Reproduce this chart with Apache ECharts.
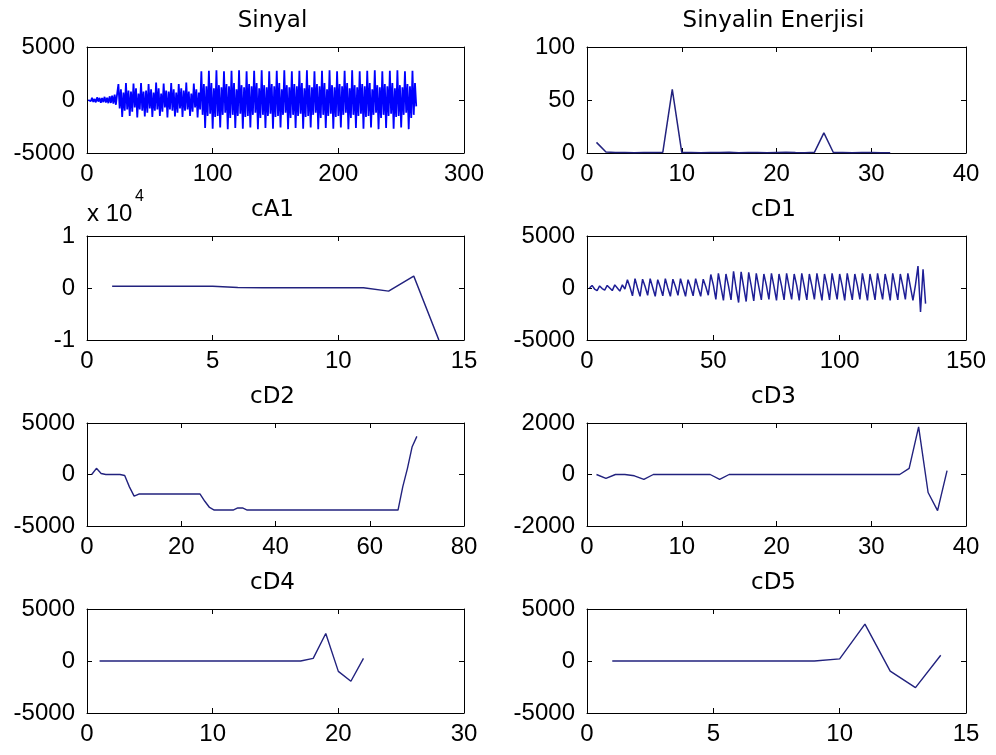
<!DOCTYPE html>
<html>
<head>
<meta charset="utf-8">
<script src="https://cdn.jsdelivr.net/npm/echarts@6/dist/echarts.min.js"></script>
<style>
html,body{margin:0;padding:0;background:#fff;}
#chart{width:996px;height:755px;}
</style>
</head>
<body>
<div id="chart"></div>
<script>
// ---------------- DATA ----------------
const titles = ['Sinyal', 'Sinyalin Enerjisi', 'cA1', 'cD1', 'cD2', 'cD3', 'cD4', 'cD5'];

const sinyal = [
  0, 150, -120, 200, -180, 100, -220, 250, -150, 200, -250, 180, -200, 300, -250, 220, -300, 350, -280, 400, -350, 500, -450, 600,
  1500, -800, 1000, -1600, 700, -1000,
  1600, -900, 900, -1500, 800, -1100,
  1550, -700, 1100, -1650, 600, -900,
  1600, -1000, 800, -1550, 900, -1200,
  1500, -800, 1000, -1600, 700, -1000,
  1650, -900, 1100, -1500, 600, -1100,
  1550, -700, 900, -1650, 800, -900,
  1600, -1000, 1000, -1550, 700, -1200,
  1500, -800, 1100, -1600, 900, -1000,
  1650, -900, 800, -1500, 600, -1100,
  1550, -700, 1000, -1650, 700, -900,
  2700, -1400, 1500, -2650, 1300, -1500,
  2750, -1300, 1600, -2700, 1100, -1600,
  2800, -1500, 1400, -2600, 1200, -1400,
  2700, -1200, 1500, -2750, 1300, -1700,
  2750, -1400, 1600, -2650, 1000, -1500,
  2800, -1300, 1400, -2700, 1200, -1600,
  2700, -1500, 1500, -2600, 1300, -1400,
  2750, -1200, 1600, -2750, 1100, -1700,
  2800, -1400, 1400, -2650, 1200, -1500,
  2700, -1300, 1500, -2700, 1300, -1600,
  2750, -1500, 1600, -2600, 1000, -1400,
  2800, -1200, 1400, -2750, 1200, -1700,
  2700, -1400, 1500, -2650, 1300, -1500,
  2750, -1300, 1600, -2700, 1100, -1600,
  2800, -1500, 1400, -2600, 1200, -1400,
  2700, -1200, 1500, -2750, 1300, -1700,
  2750, -1400, 1600, -2650, 1000, -1500,
  2800, -1300, 1400, -2700, 1200, -1600,
  2700, -1500, 1500, -2600, 1300, -1400,
  2750, -1200, 1600, -2750, 1100, -1700,
  2800, -1400, 1400, -2650, 1200, -1500,
  2700, -1300, 1500, -2700, 1300, -1600,
  2750, -1500, 1600, -2600, 1000, -1400,
  2800, -1200, 1400, -2750, 1200, -1700,
  2700, -1400, 1500, -2650, 1300, -1500,
  2750, -1300, 1600, -2700, 1100, -1600,
  2800, -1500, 1400, -2600, 1200, -1400,
  2700, -1200, 1500, -2750, 1300, -1700,
  2750, -1400, 1600, -600
];

const enerji = [10, 1, 0.5, 0.5, 0.3, 0.5, 0.4, 0.6, 60, 0.5, 0.4, 0.3, 0.5, 0.4, 0.6, 0.3, 0.5, 0.4, 0.3, 0.5, 0.6, 0.4, 0.3, 0.6, 19, 0.5, 0.4, 0.3, 0.5, 0.4, 0.3, 0.3];

const cA1 = [350, 350, 350, 350, 350, 80, 60, 60, 60, 50, 30, -600, 2300, -10000];

const cD1 = [
  0, 250, -100, -250, 200, -50, -200, 250, 0, -250, 300, 0, -300, 300, -100,
  800, 100, -750, 900, 0, -800, 850, 150, -700, 900, 50, -800,
  800, 100, -750, 900, 0, -800, 850, 150, -700, 900, 50, -800,
  800, 100, -750, 900, 0, -800, 850, 150, -700,
  1300, 300, -1100, 1400, 100, -1200, 1350, 200, -1150, 1600, 0, -1400,
  1550, 100, -1300, 1500, 200, -1250, 1400, 100, -1150, 1350, 250, -1100,
  1400, 150, -1200, 1350, 200, -1150, 1400, 100, -1100, 1350, 250, -1200,
  1400, 150, -1150, 1350, 200, -1100, 1400, 100, -1200, 1350, 250, -1150,
  1400, 150, -1100, 1350, 200, -1200, 1400, 100, -1150, 1350, 250, -1100,
  1400, 150, -1200, 1350, 200, -1150, 1400, 100, -1100, 1350, 250, -1200,
  1400, 150, -1150, 1350, 200, -1100, 1400, 100, -1200,
  300, 2100, -2300, 1800, -1500
];

const cD2 = [
  0, 600, 100, 0, 0, 0, 0, -100, -1200, -2100,
  -1900, -1900, -1900, -1900, -1900, -1900, -1900, -1900, -1900, -1900,
  -1900, -1900, -1900, -1900, -2600, -3200, -3450, -3450, -3450, -3450,
  -3450, -3250, -3250, -3450, -3450, -3450, -3450, -3450, -3450, -3450,
  -3450, -3450, -3450, -3450, -3450, -3450, -3450, -3450, -3450, -3450,
  -3450, -3450, -3450, -3450, -3450, -3450, -3450, -3450, -3450, -3450,
  -3450, -3450, -3450, -3450, -3450, -3450, -1200, 600, 2700, 3700
];

const cD3 = [0, -150, 0, 0, -50, -190, 0, 0, 0, 0, 0, 0, 0, -190, 0, 0, 0, 0, 0, 0,
  0, 0, 0, 0, 0, 0, 0, 0, 0, 0, 0, 0, 0, 240, 1850, -700, -1400, 150];

const cD4 = [0, 0, 0, 0, 0, 0, 0, 0, 0, 0, 0, 0, 0, 0, 0, 0, 0, 250, 2650, -1000, -1950, 250];

const cD5 = [0, 0, 0, 0, 0, 0, 0, 0, 0, 200, 3550, -970, -2560, 550];

// axis ranges [min, max, step]
const xRanges = [[0, 300, 100], [0, 40, 10], [0, 15, 5], [0, 150, 50], [0, 80, 20], [0, 40, 10], [0, 30, 10], [0, 15, 5]];
const yRanges = [[-5000, 5000, 5000], [0, 100, 50], [-10000, 10000, 10000], [-5000, 5000, 5000], [-5000, 5000, 5000], [-2000, 2000, 2000], [-5000, 5000, 5000], [-5000, 5000, 5000]];
const seriesData = [sinyal, enerji, cA1, cD1, cD2, cD3, cD4, cD5];

// ---------------- LAYOUT ----------------
const colLeft = [87, 587];
const colWidth = [377, 379];
const rowTop = [47, 236, 423, 609];
const rowHeight = [106, 104, 103, 104];
const lineColors = ['#0000ff', '#22227e', '#22227e', '#1e1e96', '#22227e', '#22227e', '#22227e', '#22227e'];
const lineWidths = [1.8, 1.5, 1.5, 1.5, 1.4, 1.4, 1.4, 1.4];

const tickFont = {fontFamily: 'Liberation Sans, Arial, sans-serif', fontSize: 24, color: '#000'};
const axisLine = {show: true, onZero: false, lineStyle: {color: '#000', width: 1}};
const axisTick = {show: true, inside: true, length: 5, lineStyle: {color: '#000', width: 1}};

const grids = [], xAxes = [], yAxes = [], series = [], graphics = [];

for (let i = 0; i < 8; i++) {
  const col = i % 2, row = Math.floor(i / 2);
  grids.push({left: colLeft[col], top: rowTop[row], width: colWidth[col], height: rowHeight[row], containLabel: false});
  const xr = xRanges[i], yr = yRanges[i];
  const yfmt = (i === 2) ? (v => String(v / 10000)) : (v => String(v));
  xAxes.push({type: 'value', gridIndex: i, min: xr[0], max: xr[1], interval: xr[2], position: 'bottom',
    axisLine, axisTick, splitLine: {show: false},
    axisLabel: Object.assign({margin: 9, showMinLabel: true, showMaxLabel: true, hideOverlap: false, formatter: v => String(v)}, tickFont)});
  xAxes.push({type: 'value', gridIndex: i, min: xr[0], max: xr[1], interval: xr[2], position: 'top',
    axisLine, axisTick, splitLine: {show: false}, axisLabel: {show: false}});
  yAxes.push({type: 'value', gridIndex: i, min: yr[0], max: yr[1], interval: yr[2], position: 'left',
    axisLine, axisTick, splitLine: {show: false},
    axisLabel: Object.assign({margin: 12, showMinLabel: true, showMaxLabel: true, hideOverlap: false, formatter: yfmt}, tickFont)});
  yAxes.push({type: 'value', gridIndex: i, min: yr[0], max: yr[1], interval: yr[2], position: 'right',
    axisLine, axisTick, splitLine: {show: false}, axisLabel: {show: false}});
  series.push({
    type: 'line', xAxisIndex: 2 * i, yAxisIndex: 2 * i,
    data: seriesData[i].map((v, k) => [k + 1, v]),
    symbol: 'none', showSymbol: false, clip: true, animation: false,
    lineStyle: {color: lineColors[i], width: lineWidths[i]},
    silent: true
  });
  const cx = colLeft[col] + colWidth[col] / 2 - 3;
  graphics.push({type: 'text', x: cx, y: rowTop[row] - 26,
    style: {text: titles[i], fontFamily: 'DejaVu Sans, sans-serif', fontSize: 23, fill: '#000',
      align: 'center', verticalAlign: 'middle', textAlign: 'center', textVerticalAlign: 'middle'}});
}

// exponent label for cA1
graphics.push({type: 'text', x: 87, y: 214,
  style: {text: 'x 10', fontFamily: 'Liberation Sans, Arial, sans-serif', fontSize: 24, fill: '#000',
    align: 'left', verticalAlign: 'middle', textAlign: 'left', textVerticalAlign: 'middle'}});
graphics.push({type: 'text', x: 135, y: 197,
  style: {text: '4', fontFamily: 'Liberation Sans, Arial, sans-serif', fontSize: 16, fill: '#000',
    align: 'left', verticalAlign: 'middle', textAlign: 'left', textVerticalAlign: 'middle'}});

const chart = echarts.init(document.getElementById('chart'), null, {renderer: 'canvas'});
chart.setOption({
  backgroundColor: '#fff',
  animation: false,
  grid: grids,
  xAxis: xAxes,
  yAxis: yAxes,
  series: series,
  graphic: graphics
});
</script>
</body>
</html>
